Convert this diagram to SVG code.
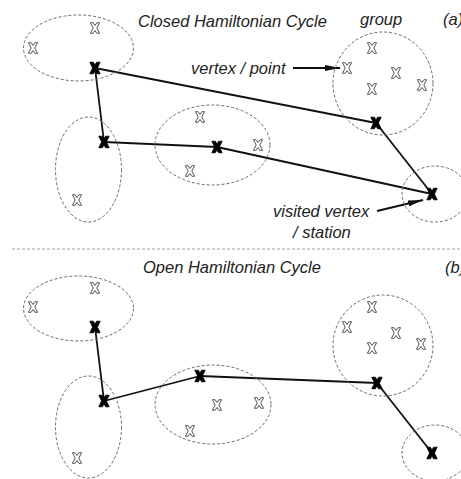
<svg xmlns="http://www.w3.org/2000/svg" width="461" height="479" viewBox="0 0 461 479">
  <style>
    .grp { fill: none; stroke: #6a6a6a; stroke-width: 1; stroke-dasharray: 3 2; }
    .edge { fill: none; stroke: #111; stroke-width: 1.8; }
    .lbl { font-family: "Liberation Sans", Arial, sans-serif; font-style: italic; font-size: 16.5px; fill: #222; }
    .ptr { fill: none; stroke: #111; stroke-width: 2; }
  </style>
  <defs>
    <!-- unvisited vertex: hollow cross -->
    <symbol id="pt" overflow="visible">
      <polygon points="-4.6,-5.3 -1.9,-5.3 0,-2.5 1.9,-5.3 4.6,-5.3 1.8,0 4.6,5.3 1.9,5.3 0,2.5 -1.9,5.3 -4.6,5.3 -1.8,0" fill="#fff" stroke="#555" stroke-width="1"/>
    </symbol>
    <!-- visited vertex (station): solid cross -->
    <symbol id="st" overflow="visible">
      <polygon points="-5.2,-5.8 -1.6,-5.8 0,-3 1.6,-5.8 5.2,-5.8 2.4,0 5.2,5.8 1.6,5.8 0,3 -1.6,5.8 -5.2,5.8 -2.4,0" fill="#000" stroke="#000" stroke-width="0.8" stroke-linejoin="round"/>
    </symbol>
    <marker id="ah" viewBox="0 0 15 6" refX="15" refY="3" markerWidth="15" markerHeight="6" markerUnits="userSpaceOnUse" orient="auto">
      <path d="M0,0 L15,3 L0,6 Z" fill="#111"/>
    </marker>
  </defs>

  <!-- ===== (a) closed cycle ===== -->
  <text class="lbl" x="138" y="27">Closed Hamiltonian Cycle</text>
  <text class="lbl" x="360" y="25">group</text>
  <text class="lbl" x="443" y="25">(a)</text>
  <text class="lbl" x="191" y="74">vertex / point</text>
  <text class="lbl" x="273" y="217">visited vertex</text>
  <text class="lbl" x="293" y="238">/ station</text>

  <g id="connectors-a">
    <line class="edge" x1="95" y1="68" x2="104" y2="142"/>
    <line class="edge" x1="104" y1="142" x2="217" y2="147"/>
    <line class="edge" x1="217" y1="147" x2="432" y2="194"/>
    <line class="edge" x1="95" y1="68" x2="376" y2="123"/>
    <line class="edge" x1="376" y1="123" x2="432" y2="194"/>
    <line class="ptr" x1="293" y1="68" x2="340" y2="68" marker-end="url(#ah)"/>
    <line class="ptr" x1="377" y1="211" x2="423" y2="200" marker-end="url(#ah)"/>
  </g>

  <g id="a-group1">
    <ellipse class="grp" cx="78.5" cy="48" rx="55" ry="33"/>
    <use href="#pt" x="33" y="48"/>
    <use href="#pt" x="95" y="28"/>
    <use href="#st" x="95" y="68"/>
  </g>
  <g id="a-group2">
    <ellipse class="grp" cx="88.5" cy="169.5" rx="33" ry="52.5"/>
    <use href="#pt" x="77" y="200"/>
    <use href="#st" x="104" y="142"/>
  </g>
  <g id="a-group3">
    <ellipse class="grp" cx="212.5" cy="145" rx="57.5" ry="40"/>
    <use href="#pt" x="200" y="117"/>
    <use href="#pt" x="190" y="171"/>
    <use href="#pt" x="258" y="145"/>
    <use href="#st" x="217" y="147"/>
  </g>
  <g id="a-group4">
    <ellipse class="grp" cx="383" cy="83.5" rx="50" ry="51.5"/>
    <use href="#pt" x="372" y="48"/>
    <use href="#pt" x="347" y="68"/>
    <use href="#pt" x="396" y="73"/>
    <use href="#pt" x="372" y="89"/>
    <use href="#pt" x="422" y="85"/>
    <use href="#st" x="376" y="123"/>
  </g>
  <g id="a-group5">
    <ellipse class="grp" cx="435" cy="194" rx="33" ry="28"/>
    <use href="#st" x="432" y="194"/>
  </g>

  <!-- divider -->
  <line x1="12" y1="249" x2="461" y2="249" stroke="#888" stroke-width="0.8" stroke-dasharray="3 2"/>

  <!-- ===== (b) open path ===== -->
  <text class="lbl" x="143" y="273">Open Hamiltonian Cycle</text>
  <text class="lbl" x="445" y="273">(b)</text>

  <g id="connectors-b">
    <line class="edge" x1="95" y1="327" x2="104" y2="401"/>
    <line class="edge" x1="104" y1="401" x2="200" y2="376"/>
    <line class="edge" x1="200" y1="376" x2="377" y2="383"/>
    <line class="edge" x1="377" y1="383" x2="432" y2="453"/>
  </g>

  <g id="b-group1">
    <ellipse class="grp" cx="78.5" cy="308.5" rx="55" ry="32.5"/>
    <use href="#pt" x="33" y="307"/>
    <use href="#pt" x="95" y="288"/>
    <use href="#st" x="95" y="327"/>
  </g>
  <g id="b-group2">
    <ellipse class="grp" cx="88.5" cy="427" rx="33" ry="51"/>
    <use href="#pt" x="77" y="458"/>
    <use href="#st" x="104" y="401"/>
  </g>
  <g id="b-group3">
    <ellipse class="grp" cx="213" cy="404.5" rx="58" ry="39.5"/>
    <use href="#pt" x="217" y="405"/>
    <use href="#pt" x="190" y="431"/>
    <use href="#pt" x="259" y="403"/>
    <use href="#st" x="200" y="376"/>
  </g>
  <g id="b-group4">
    <ellipse class="grp" cx="383" cy="345.5" rx="50" ry="50.5"/>
    <use href="#pt" x="372" y="307"/>
    <use href="#pt" x="347" y="327"/>
    <use href="#pt" x="396" y="333"/>
    <use href="#pt" x="372" y="348"/>
    <use href="#pt" x="421" y="344"/>
    <use href="#st" x="377" y="383"/>
  </g>
  <g id="b-group5">
    <ellipse class="grp" cx="435" cy="453" rx="33" ry="28"/>
    <use href="#st" x="432" y="453"/>
  </g>
</svg>
